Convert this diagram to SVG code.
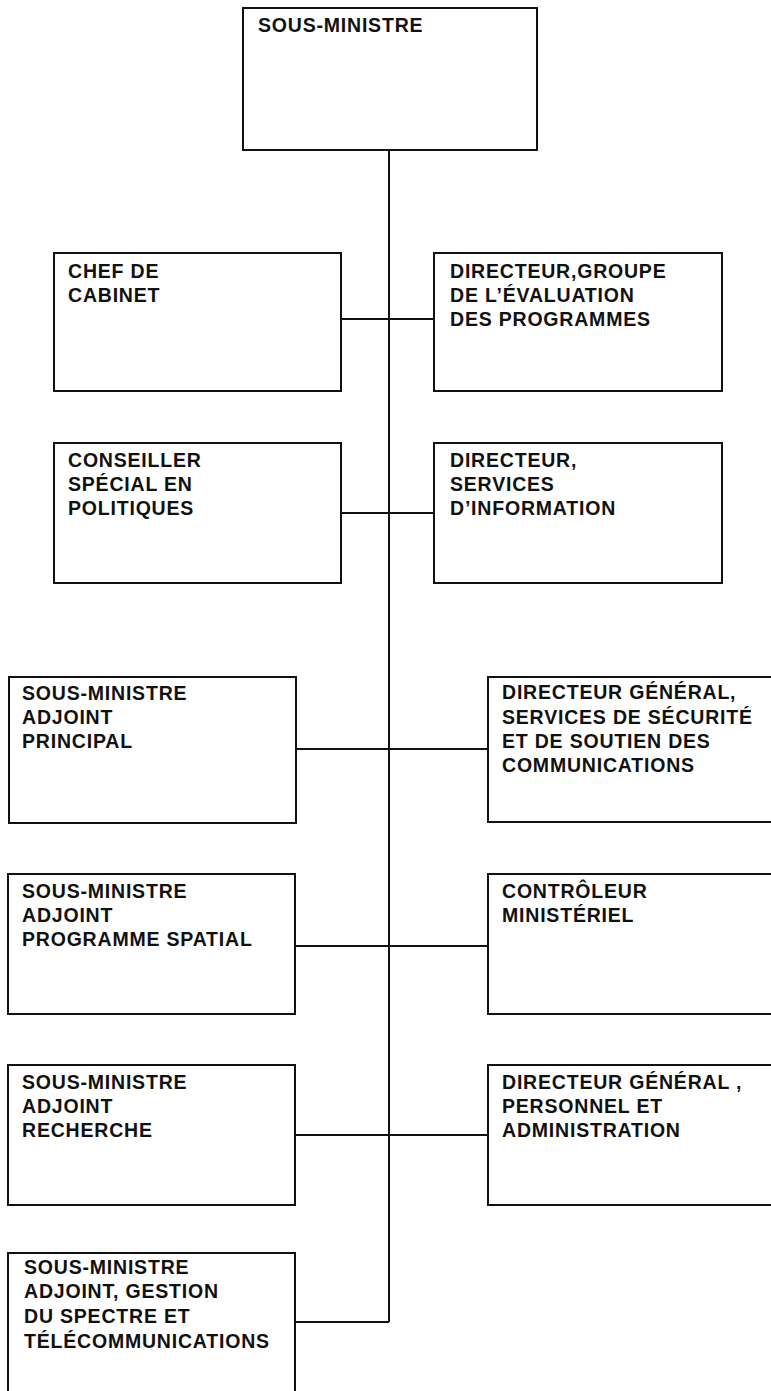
<svg xmlns="http://www.w3.org/2000/svg" width="771" height="1391" viewBox="0 0 771 1391">
  <style>
    .box { fill: #ffffff; stroke: #111111; stroke-width: 2; }
    .link { fill: none; stroke: #111111; stroke-width: 2; }
    .lbl { font-family: "Liberation Sans", Arial, sans-serif; font-weight: bold; font-size: 19.5px; letter-spacing: 0.8px; fill: #111111; }
  </style>
  <rect width="771" height="1391" fill="#ffffff"/>

  <!-- connectors: spine plus one branch per row -->
  <g id="connectors">
    <line class="link" x1="389" y1="150" x2="389" y2="1322"/>
    <line class="link" x1="341" y1="319" x2="434" y2="319"/>
    <line class="link" x1="341" y1="513" x2="434" y2="513"/>
    <line class="link" x1="296" y1="749" x2="488" y2="749"/>
    <line class="link" x1="295" y1="946" x2="488" y2="946"/>
    <line class="link" x1="295" y1="1135" x2="488" y2="1135"/>
    <polyline class="link" points="295,1322 389,1322"/>
  </g>

  <g id="sous-ministre">
    <rect class="box" x="243" y="8" width="294" height="142"/>
    <text class="lbl" x="258" y="32">SOUS-MINISTRE</text>
  </g>

  <g id="chef-de-cabinet">
    <rect class="box" x="54" y="253" width="287" height="138"/>
    <text class="lbl" x="68" y="278">CHEF DE</text>
    <text class="lbl" x="68" y="302">CABINET</text>
  </g>

  <g id="directeur-evaluation">
    <rect class="box" x="434" y="253" width="288" height="138"/>
    <text class="lbl" x="450" y="278">DIRECTEUR,GROUPE</text>
    <text class="lbl" x="450" y="302">DE L’ÉVALUATION</text>
    <text class="lbl" x="450" y="326">DES PROGRAMMES</text>
  </g>

  <g id="conseiller-special">
    <rect class="box" x="54" y="443" width="287" height="140"/>
    <text class="lbl" x="68" y="467">CONSEILLER</text>
    <text class="lbl" x="68" y="491">SPÉCIAL EN</text>
    <text class="lbl" x="68" y="515">POLITIQUES</text>
  </g>

  <g id="directeur-information">
    <rect class="box" x="434" y="443" width="288" height="140"/>
    <text class="lbl" x="450" y="467">DIRECTEUR,</text>
    <text class="lbl" x="450" y="491">SERVICES</text>
    <text class="lbl" x="450" y="515">D’INFORMATION</text>
  </g>

  <g id="sma-principal">
    <rect class="box" x="9" y="677" width="287" height="146"/>
    <text class="lbl" x="22" y="700">SOUS-MINISTRE</text>
    <text class="lbl" x="22" y="724">ADJOINT</text>
    <text class="lbl" x="22" y="748">PRINCIPAL</text>
  </g>

  <g id="dg-securite">
    <rect class="box" x="488" y="677" width="300" height="145"/>
    <text class="lbl" x="502" y="699">DIRECTEUR GÉNÉRAL,</text>
    <text class="lbl" x="502" y="724">SERVICES DE SÉCURITÉ</text>
    <text class="lbl" x="502" y="748">ET DE SOUTIEN DES</text>
    <text class="lbl" x="502" y="772">COMMUNICATIONS</text>
  </g>

  <g id="sma-spatial">
    <rect class="box" x="8" y="874" width="287" height="140"/>
    <text class="lbl" x="22" y="898">SOUS-MINISTRE</text>
    <text class="lbl" x="22" y="922">ADJOINT</text>
    <text class="lbl" x="22" y="946">PROGRAMME SPATIAL</text>
  </g>

  <g id="controleur">
    <rect class="box" x="488" y="874" width="300" height="140"/>
    <text class="lbl" x="502" y="898">CONTRÔLEUR</text>
    <text class="lbl" x="502" y="922">MINISTÉRIEL</text>
  </g>

  <g id="sma-recherche">
    <rect class="box" x="8" y="1065" width="287" height="140"/>
    <text class="lbl" x="22" y="1089">SOUS-MINISTRE</text>
    <text class="lbl" x="22" y="1113">ADJOINT</text>
    <text class="lbl" x="22" y="1137">RECHERCHE</text>
  </g>

  <g id="dg-personnel">
    <rect class="box" x="488" y="1065" width="300" height="140"/>
    <text class="lbl" x="502" y="1089">DIRECTEUR GÉNÉRAL ,</text>
    <text class="lbl" x="502" y="1113">PERSONNEL ET</text>
    <text class="lbl" x="502" y="1137">ADMINISTRATION</text>
  </g>

  <g id="sma-spectre">
    <rect class="box" x="8" y="1253" width="287" height="160"/>
    <text class="lbl" x="24" y="1274">SOUS-MINISTRE</text>
    <text class="lbl" x="24" y="1298">ADJOINT, GESTION</text>
    <text class="lbl" x="24" y="1323">DU SPECTRE ET</text>
    <text class="lbl" x="24" y="1348">TÉLÉCOMMUNICATIONS</text>
  </g>
</svg>
